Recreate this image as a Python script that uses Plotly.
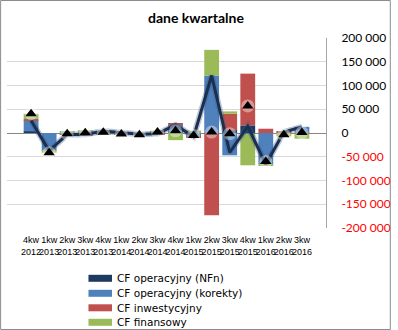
import plotly.graph_objects as go

# Quarterly cash-flow components (PLN thousands)
quarters = ["4kw", "1kw", "2kw", "3kw", "4kw", "1kw", "2kw", "3kw",
            "4kw", "1kw", "2kw", "3kw", "4kw", "1kw", "2kw", "3kw"]
years = ["2012", "2013", "2013", "2013", "2013", "2014", "2014", "2014",
         "2014", "2015", "2015", "2015", "2015", "2016", "2016", "2016"]

cf_oper_nfn = [3500, 0, 0, 0, 0, 0, 0, 0,
               0, 0, 0, 6000, 16000, 0, 0, 0]
cf_oper_korekty = [23000, -37500, -3000, -3000, 4000, 500, -2500, -1500,
                   17000, -8000, 121000, -47000, -2000, -66000, 2000, 13000]
cf_inwestycyjny = [2800, 0, -1000, -2500, -1500, -1500, -1000, -1500,
                   2500, -2000, -173000, 34500, 109000, 9000, 1500, -2000]
cf_finansowy = [11200, -4000, 2500, 6000, -1000, -1000, 0, 5000,
                -15000, 5000, 54000, 5000, -66000, -3000, -7000, -10000]

y_ticks = [-200000, -150000, -100000, -50000, 0, 50000, 100000, 150000, 200000]

categories = [f"{q}<br>{y}" for q, y in zip(quarters, years)]
xs = [f"{q} {y}" for q, y in zip(quarters, years)]

# operating cash flow (NFn + adjustments) and net cash flow
cf_oper_total = [a + b for a, b in zip(cf_oper_nfn, cf_oper_korekty)]
cf_net = [a + b + c + d for a, b, c, d in
          zip(cf_oper_nfn, cf_oper_korekty, cf_inwestycyjny, cf_finansowy)]


def fmt(v):
    s = f"{abs(v):,}".replace(",", " ")
    if v < 0:
        return f"<span style='color:#FF0000'>-{s}</span>"
    return s


colors = {
    "nfn": "#1F3A60",
    "kor": "#4F81BD",
    "inw": "#C0504D",
    "fin": "#9BBB59",
}

fig = go.Figure()
series = [
    ("CF operacyjny (NFn)", cf_oper_nfn, colors["nfn"]),
    ("CF operacyjny (korekty)", cf_oper_korekty, colors["kor"]),
    ("CF inwestycyjny", cf_inwestycyjny, colors["inw"]),
    ("CF finansowy", cf_finansowy, colors["fin"]),
]
for name, vals, col in series:
    fig.add_trace(go.Bar(x=xs, y=vals, name=name, marker_color=col,
                         marker_line_width=0, showlegend=False))

# soft glow under the operating CF line
fig.add_trace(go.Scatter(x=xs, y=cf_oper_total, mode="lines",
                         line=dict(color="rgba(60,90,135,0.35)", width=6),
                         showlegend=False, hoverinfo="skip"))
fig.add_trace(go.Scatter(x=xs, y=cf_oper_total, mode="lines",
                         line=dict(color="#1B2F4E", width=3),
                         name="CF operacyjny", showlegend=False))
# net cash flow markers with a light halo
fig.add_trace(go.Scatter(x=xs, y=cf_net, mode="markers",
                         marker=dict(symbol="circle", size=13,
                                     color="rgba(255,255,255,0.4)"),
                         showlegend=False, hoverinfo="skip"))
fig.add_trace(go.Scatter(x=xs, y=cf_net, mode="markers",
                         marker=dict(symbol="triangle-up", size=10, color="black"),
                         name="CF netto", showlegend=False))

W, H = 398, 330
L, R, T, B = 7, 66, 38, 102
pw, ph = W - L - R, H - T - B


def px(x):
    return (x - L) / pw


def py(y):
    return (H - B - y) / ph


shapes = [
    dict(type="rect", xref="paper", yref="paper",
         x0=px(0.5), x1=px(W - 0.5), y0=py(H - 0.5), y1=py(0.5),
         line=dict(color="#8C8C8C", width=1), fillcolor="rgba(0,0,0,0)"),
]
annotations = []
legend_rows = [278.3, 293.3, 307.8, 322.3]
for (name, _, col), cy in zip(series, legend_rows):
    shapes.append(dict(type="rect", xref="paper", yref="paper",
                       x0=px(90), x1=px(114), y0=py(cy + 3.5), y1=py(cy - 3.5),
                       fillcolor=col, line_width=0))
    annotations.append(dict(x=px(117), y=py(cy), xref="paper", yref="paper",
                            text=name, showarrow=False, xanchor="left",
                            yanchor="middle",
                            font=dict(family="DejaVu Sans", size=10.5,
                                      color="black")))

annotations.append(dict(x=px(200), y=py(18), xref="paper", yref="paper",
                        text="<b>dane kwartalne</b>", showarrow=False,
                        xanchor="center", yanchor="middle",
                        font=dict(family="Lato", size=14, color="black")))

fig.update_layout(
    width=W, height=H,
    margin=dict(l=L, r=R, t=T, b=B),
    paper_bgcolor="white", plot_bgcolor="white",
    barmode="relative", bargap=0.18,
    shapes=shapes, annotations=annotations,
    showlegend=False,
)
fig.update_xaxes(
    type="category", tickmode="array", tickvals=xs, ticktext=categories,
    tickangle=0, showgrid=False, showline=False, zeroline=False,
    ticks="", ticklabelstandoff=5,
    tickfont=dict(family="Liberation Sans", size=9, color="black"),
)
fig.update_yaxes(
    side="right", range=[-200000, 200000],
    tickmode="array", tickvals=y_ticks, ticktext=[fmt(v) for v in y_ticks],
    showgrid=True, gridcolor="#D9D9D9", gridwidth=1,
    zeroline=True, zerolinecolor="#868686", zerolinewidth=1,
    showline=True, linecolor="#A6A6A6", linewidth=1,
    ticks="", ticklabelstandoff=12,
    tickfont=dict(family="Lato", size=12, color="black"),
)

fig.write_html("out.html")
